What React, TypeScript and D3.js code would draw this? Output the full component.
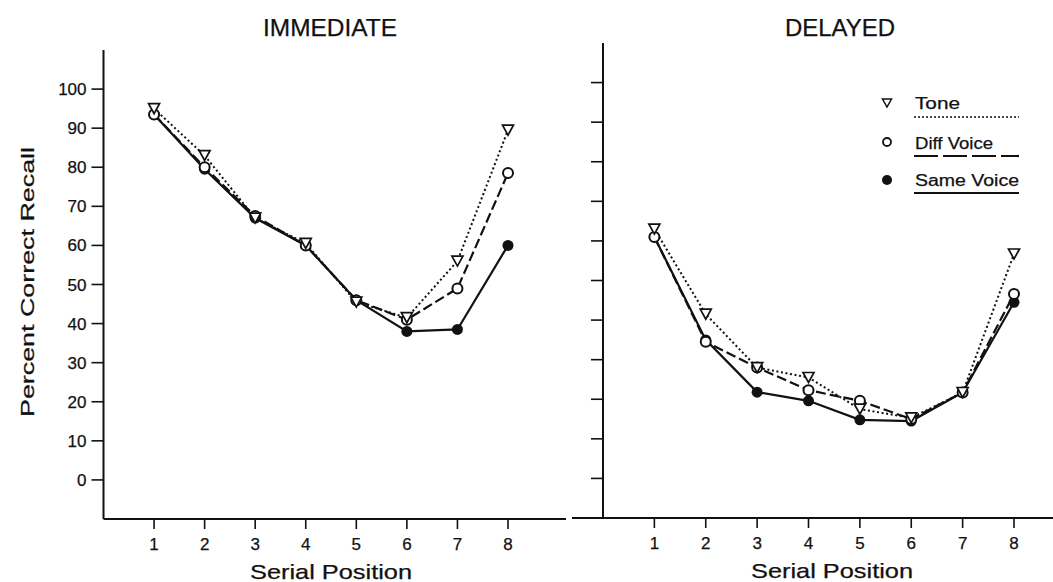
import React from 'react';
import * as d3 from 'd3';

// ---- data ----
const positions = [1, 2, 3, 4, 5, 6, 7, 8];
const yTickValues = [0, 10, 20, 30, 40, 50, 60, 70, 80, 90, 100];

const immediateTone = [95, 83, 67, 60.5, 45.5, 41.5, 56, 89.5];
const immediateDiff = [93.5, 80, 67.5, 60, 46, 41, 49, 78.5];
const immediateSame = [93.5, 79.5, 67, 60, 46, 38, 38.5, 60];

const delayedTone = [63, 41.5, 28, 25.5, 17.5, 15.3, 21.7, 56.7];
const delayedDiff = [61, 34.5, 28, 22.3, 19.6, 15, 21.7, 46.6];
const delayedSame = [61, 35, 21.8, 19.6, 14.8, 14.5, 21.7, 44.5];

const seriesNames = ['Tone', 'Diff Voice', 'Same Voice'];
const panelTitles = ['IMMEDIATE', 'DELAYED'];
const xAxisTitle = 'Serial Position';
const yAxisTitle = 'Percent Correct Recall';

const FONT = '"Liberation Sans", Arial, Helvetica, sans-serif';
const INK = '#111';
const TXT = { stroke: INK, strokeWidth: 0.25 };

const styles = {
  Tone: { dash: '2,2.6', width: 2 },
  'Diff Voice': { dash: '10,4', width: 2.2 },
  'Same Voice': { dash: undefined as string | undefined, width: 2.2 },
};

const triPath = 'M-5.5,-5L5.5,-5L0,5Z';

type PanelProps = {
  title: string;
  titleX: number;
  titleLen: number;
  xRange: [number, number];
  yRange: [number, number];
  xAxisStart: number;
  xAxisEnd: number;
  tone: number[];
  diff: number[];
  same: number[];
  labels: boolean;
  xTitleX: number;
};

function Panel(p: PanelProps) {
  const x = d3.scaleLinear().domain([0, 8]).range(p.xRange);
  const y = d3.scaleLinear().domain([-10, 110]).range(p.yRange);
  const x0 = x(0);
  const yBase = y(-10);
  const line = d3
    .line<number>()
    .x((_, i) => x(positions[i]))
    .y((d) => y(d));
  const series: [string, number[]][] = [
    ['Same Voice', p.same],
    ['Diff Voice', p.diff],
    ['Tone', p.tone],
  ];
  return (
    <g>
      <text
        x={p.titleX}
        y={36}
        textAnchor="middle"
        fontFamily={FONT}
        fontSize={23}
        fill={INK}
        {...TXT}
        textLength={p.titleLen}
        lengthAdjust="spacingAndGlyphs"
      >
        {p.title}
      </text>
      {/* axes */}
      <line x1={x0} x2={x0} y1={y(110)} y2={yBase} stroke={INK} strokeWidth={2} />
      <line x1={p.xAxisStart} x2={p.xAxisEnd} y1={yBase} y2={yBase} stroke={INK} strokeWidth={2} />
      {yTickValues.map((v) => (
        <g key={v}>
          <line x1={x0 - 12} x2={x0} y1={y(v)} y2={y(v)} stroke={INK} strokeWidth={1.6} />
          {p.labels && (
            <text
              x={x0 - 17}
              y={y(v) + 6}
              textAnchor="end"
              fontFamily={FONT}
              fontSize={17}
              fill={INK}
              {...TXT}
            >
              {v}
            </text>
          )}
        </g>
      ))}
      {positions.map((v) => (
        <g key={v}>
          <line x1={x(v)} x2={x(v)} y1={yBase} y2={yBase + 10} stroke={INK} strokeWidth={1.6} />
          <text x={x(v)} y={yBase + 31} textAnchor="middle" fontFamily={FONT} fontSize={17} fill={INK} {...TXT}>
            {v}
          </text>
        </g>
      ))}
      <text
        x={p.xTitleX}
        y={yBase + 60}
        textAnchor="middle"
        fontFamily={FONT}
        fontSize={21}
        fill={INK}
        {...TXT}
        textLength={162}
        lengthAdjust="spacingAndGlyphs"
      >
        {xAxisTitle}
      </text>
      {/* lines */}
      {series.map(([name, vals]) => {
        const st = styles[name as keyof typeof styles];
        return (
          <path
            key={name}
            d={line(vals) || ''}
            fill="none"
            stroke={INK}
            strokeWidth={st.width}
            strokeDasharray={st.dash}
          />
        );
      })}
      {/* markers */}
      {p.same.map((v, i) => (
        <circle key={'s' + i} cx={x(positions[i])} cy={y(v)} r={5.5} fill={INK} />
      ))}
      {p.diff.map((v, i) => (
        <circle key={'d' + i} cx={x(positions[i])} cy={y(v)} r={5} fill="#fff" stroke={INK} strokeWidth={2} />
      ))}
      {p.tone.map((v, i) => (
        <path
          key={'t' + i}
          d={triPath}
          transform={`translate(${x(positions[i])},${y(v)})`}
          fill="#fff"
          stroke={INK}
          strokeWidth={1.7}
        />
      ))}
    </g>
  );
}

function Legend() {
  const rows = [
    { name: seriesNames[0], y: 103, tl: 45, textY: 109, lineY: 117 },
    { name: seriesNames[1], y: 142, tl: 78, textY: 149, lineY: 156 },
    { name: seriesNames[2], y: 180, tl: 104, textY: 186, lineY: 193 },
  ];
  return (
    <g>
      {rows.map((r, i) => (
        <g key={r.name}>
          {i === 0 && (
            <path d="M-4.5,-4L4.5,-4L0,4Z" transform={`translate(887,${r.y})`} fill="#fff" stroke={INK} strokeWidth={1.5} />
          )}
          {i === 1 && <circle cx={887} cy={r.y} r={4} fill="#fff" stroke={INK} strokeWidth={1.8} />}
          {i === 2 && <circle cx={887} cy={r.y} r={5} fill={INK} />}
          <text
            x={915}
            y={r.textY}
            fontFamily={FONT}
            fontSize={16}
            fill={INK}
            {...TXT}
            textLength={r.tl}
            lengthAdjust="spacingAndGlyphs"
          >
            {r.name}
          </text>
          <line
            x1={914}
            x2={1019}
            y1={r.lineY}
            y2={r.lineY}
            stroke={INK}
            strokeWidth={i === 0 ? 1.6 : 2.2}
            strokeDasharray={i === 0 ? '2,2' : i === 1 ? '24,5' : undefined}
          />
        </g>
      ))}
    </g>
  );
}

export default function App() {
  return (
    <svg
      width={1053}
      height={582}
      style={{ position: 'absolute', left: 0, top: 0, background: '#fff', display: 'block' }}
    >
      <rect width={1053} height={582} fill="#fff" />
      <text
        transform="translate(34,282) rotate(-90)"
        textAnchor="middle"
        fontFamily={FONT}
        fontSize={19}
        fill={INK}
        {...TXT}
        textLength={270}
        lengthAdjust="spacingAndGlyphs"
      >
        {yAxisTitle}
      </text>
      <Panel
        title={panelTitles[0]}
        titleX={330}
        titleLen={134}
        xRange={[103.5, 508]}
        yRange={[519, 50]}
        xAxisStart={103.5}
        xAxisEnd={566}
        tone={immediateTone}
        diff={immediateDiff}
        same={immediateSame}
        labels={true}
        xTitleX={331}
      />
      <Panel
        title={panelTitles[1]}
        titleX={840}
        titleLen={110}
        xRange={[603, 1014]}
        yRange={[518, 43]}
        xAxisStart={572}
        xAxisEnd={1053}
        tone={delayedTone}
        diff={delayedDiff}
        same={delayedSame}
        labels={false}
        xTitleX={832}
      />
      <Legend />
    </svg>
  );
}
